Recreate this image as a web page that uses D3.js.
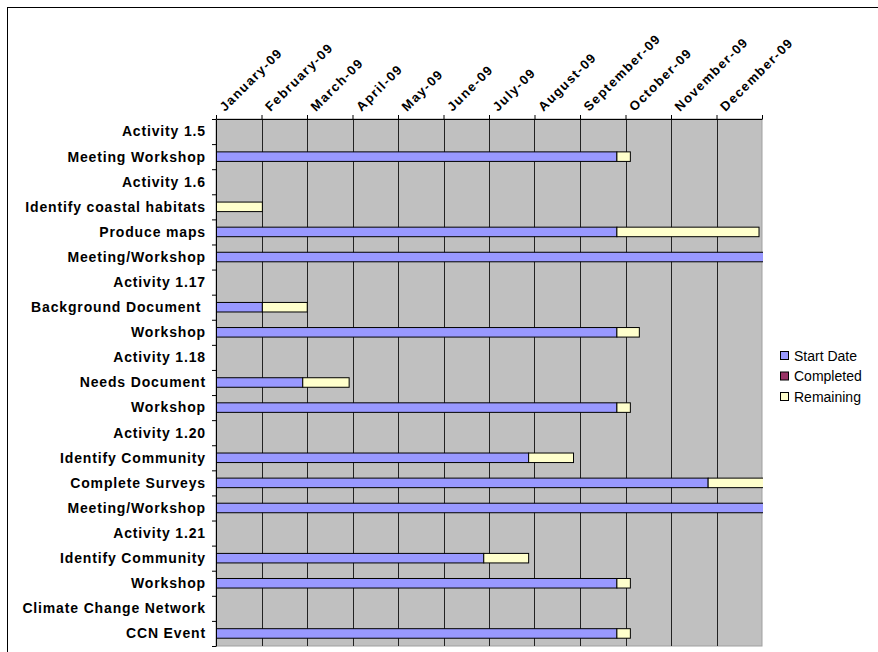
<!DOCTYPE html>
<html>
<head>
<meta charset="utf-8">
<script src="https://cdn.jsdelivr.net/npm/d3@7"></script>
<style>
  body { margin: 0; background: #fff; }
  text { font-family: "Liberation Sans", Arial, sans-serif; }
</style>
</head>
<body>
<svg id="drawing_region"></svg>
<script>
// tasks (top to bottom)
const tasks = [
  "Activity 1.5", "Meeting Workshop", "Activity 1.6", "Identify coastal habitats",
  "Produce maps", "Meeting/Workshop", "Activity 1.17", "Background Document ",
  "Workshop", "Activity 1.18", "Needs Document", "Workshop", "Activity 1.20",
  "Identify Community", "Complete Surveys", "Meeting/Workshop", "Activity 1.21",
  "Identify Community", "Workshop", "Climate Change Network", "CCN Event"
];
// day of 2009 (0 = 1 Jan), null for heading rows
const startDate = [
  null, 268, null, 0, 268, 380, null, 31, 268, null, 58, 268, null,
  209, 329, 380, null, 179, 268, null, 268
];
// days
const completed = [
  null, 0, null, 0, 0, 0, null, 0, 0, null, 0, 0, null,
  0, 0, 0, null, 0, 0, null, 0
];
const remaining = [
  null, 9, null, 31, 95, 0, null, 30, 15, null, 31, 9, null,
  30, 60, 0, null, 30, 9, null, 9
];
const monthLabels = [
  "January-09", "February-09", "March-09", "April-09", "May-09", "June-09",
  "July-09", "August-09", "September-09", "October-09", "November-09", "December-09"
];
const seriesNames = ["Start Date", "Completed", "Remaining"];
const seriesColors = ["#9999ff", "#993366", "#ffffcc"];

class GanttChart {
  constructor(config) {
    this.config = config;
    this.init();
  }

  init() {
    let self = this;
    const c = self.config;
    self.svg = d3.select(c.parent)
      .attr('width', c.width)
      .attr('height', c.height);

    // outer chart border
    self.svg.append('rect')
      .attr('x', 7.5).attr('y', 7.5)
      .attr('width', c.width + 20).attr('height', c.height + 20)
      .attr('fill', 'none').attr('stroke', '#000').attr('stroke-width', 1);

    self.inner_width = c.width - c.margin.left - c.margin.right;
    self.inner_height = c.height - c.margin.top - c.margin.bottom;

    self.chart = self.svg.append('g')
      .attr('transform', `translate(${c.margin.left}, ${c.margin.top})`);

    self.xscale = d3.scaleLinear().domain([0, 365]).range([0, self.inner_width]);
    self.yscale = d3.scaleBand().domain(d3.range(tasks.length))
      .range([0, self.inner_height]).paddingInner(0.62).paddingOuter(0.31);

    self.render();
  }

  render() {
    let self = this;
    const W = self.inner_width, H = self.inner_height;
    const monthTicks = d3.range(12).map(i => i * 365 / 12);

    self.chart.append('rect')
      .attr('width', W).attr('height', H)
      .attr('fill', '#c0c0c0').attr('stroke', '#a0a0a0');

    // vertical gridlines
    self.chart.append('g').selectAll('line')
      .data(monthTicks.slice(1))
      .join('line')
      .attr('x1', d => Math.round(self.xscale(d)) + 0.5)
      .attr('x2', d => Math.round(self.xscale(d)) + 0.5)
      .attr('y1', 0).attr('y2', H)
      .attr('stroke', '#222');

    // bars, stacked: start -> completed -> remaining
    self.svg.append('clipPath').attr('id', 'plotclip')
      .append('rect').attr('width', W + 1).attr('height', H);
    const bars = self.chart.append('g').attr('clip-path', 'url(#plotclip)');
    const rows = tasks.map((t, i) => ({ i, s: startDate[i], c: completed[i], r: remaining[i] }))
      .filter(d => d.s !== null);

    bars.selectAll('rect.start').data(rows).join('rect')
      .attr('class', 'start')
      .attr('x', self.xscale(0))
      .attr('y', d => self.yscale(d.i))
      .attr('width', d => self.xscale(d.s) - self.xscale(0))
      .attr('height', self.yscale.bandwidth())
      .attr('fill', seriesColors[0]).attr('stroke', '#000');

    bars.selectAll('rect.remain').data(rows.filter(d => d.r > 0)).join('rect')
      .attr('class', 'remain')
      .attr('x', d => self.xscale(d.s + d.c))
      .attr('y', d => self.yscale(d.i))
      .attr('width', d => self.xscale(d.s + d.c + d.r) - self.xscale(d.s + d.c))
      .attr('height', self.yscale.bandwidth())
      .attr('fill', seriesColors[2]).attr('stroke', '#000');

    // top axis
    const xaxis = d3.axisTop(self.xscale).tickValues(monthTicks.concat([365]))
      .tickSize(4).tickSizeOuter(0).tickFormat('');
    const xg = self.chart.append('g').call(xaxis);
    xg.select('.domain').attr('stroke', '#000');
    xg.selectAll('.tick line').attr('stroke', '#000');

    self.chart.append('g').selectAll('text')
      .data(monthTicks)
      .join('text')
      .attr('transform', d => `translate(${self.xscale(d) + 9}, -7) rotate(-45)`)
      .attr('font-size', 13).attr('font-weight', 'bold')
      .attr('letter-spacing', 1.4)
      .text((d, i) => monthLabels[i]);

    // left axis: ticks at row boundaries
    const yb = d3.scaleLinear().domain([0, tasks.length]).range([0, H]);
    const yaxis = d3.axisLeft(yb).tickValues(d3.range(tasks.length + 1))
      .tickSize(4).tickSizeOuter(0).tickFormat('');
    const yg = self.chart.append('g').call(yaxis);
    yg.select('.domain').attr('stroke', '#000');
    yg.selectAll('.tick line').attr('stroke', '#000');

    self.chart.append('g').selectAll('text')
      .data(tasks)
      .join('text')
      .attr('x', -10)
      .attr('y', (d, i) => yb(i + 0.5))
      .attr('dy', '0.35em')
      .attr('text-anchor', 'end')
      .attr('font-size', 14).attr('font-weight', 'bold')
      .attr('letter-spacing', 0.85)
      .style('white-space', 'pre')
      .text(d => d);

    // legend
    const lg = self.svg.append('g').attr('transform', 'translate(780, 356)');
    const item = lg.selectAll('g').data(seriesNames).join('g')
      .attr('transform', (d, i) => `translate(0, ${i * 20.5})`);
    item.append('rect')
      .attr('x', 0.5).attr('y', -4.5).attr('width', 8).attr('height', 8)
      .attr('fill', (d, i) => seriesColors[i]).attr('stroke', '#000');
    item.append('text')
      .attr('x', 14).attr('dy', '0.35em')
      .attr('font-size', 14)
      .text(d => d);
  }
}

const chart = new GanttChart({
  parent: '#drawing_region',
  width: 878,
  height: 652,
  margin: { top: 119, right: 116, bottom: 6, left: 216 }
});
</script>
</body>
</html>
